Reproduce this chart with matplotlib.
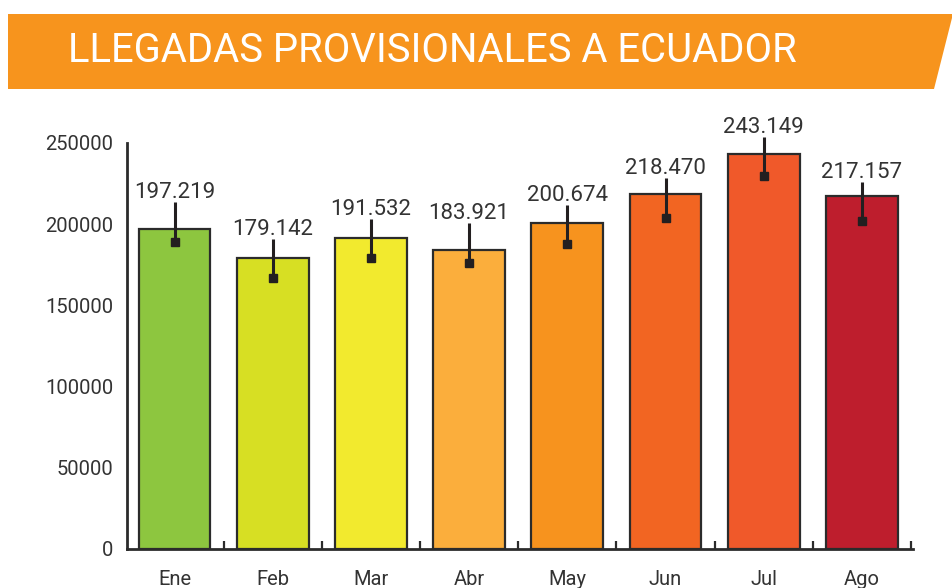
import matplotlib
matplotlib.use("Agg")
import matplotlib.pyplot as plt
from matplotlib.patches import Polygon
import numpy as np

# data
meses = ["Ene", "Feb", "Mar", "Abr", "May", "Jun", "Jul", "Ago"]
llegadas = [197219, 179142, 191532, 183921, 200674, 218470, 243149, 217157]
etiquetas = ["197.219", "179.142", "191.532", "183.921", "200.674", "218.470", "243.149", "217.157"]
# black square markers and the line above each of them
marcador = [189200, 166900, 179400, 176100, 187800, 203800, 229700, 202200]
tope_linea = [213900, 190900, 203200, 200700, 211800, 228400, 253900, 226200]
colores = ["#8DC63F", "#D7DF23", "#F2EA2E", "#FBAE3C", "#F7931E", "#F26522", "#F0592A", "#BE1E2D"]

plt.rcParams['font.family'] = ['Roboto', 'DejaVu Sans']
W, H = 953, 588
fig = plt.figure(figsize=(W / 100, H / 100), dpi=100)

# orange banner with the slanted right edge
banner = Polygon([(8 / W, 1 - 14 / H), (953 / W, 1 - 14 / H), (934 / W, 1 - 89 / H), (8 / W, 1 - 89 / H)],
                 closed=True, transform=fig.transFigure, facecolor="#F7941D", edgecolor="none")
fig.patches.append(banner)
titulo = fig.text(68 / W, 1 - 51 / H, "LLEGADAS PROVISIONALES A ECUADOR", color="white",
                  fontsize=30, ha="left", va="center",
                  family=["Liberation Sans Narrow", "Roboto", "DejaVu Sans"])
# fit the title to the width in the reference
fig.canvas.draw()
ancho = titulo.get_window_extent().width
titulo.set_fontsize(30 * 727 / ancho)

ax = fig.add_axes([127 / W, 39 / H, (913 - 127) / W, (549 - 143) / H])
x = np.arange(len(meses))
ax.bar(x, llegadas, width=0.73, color=colores, edgecolor="#2b2b2b", linewidth=1.6, zorder=2)

err_sup = np.array(tope_linea) - np.array(marcador)
eb = ax.errorbar(x, marcador, yerr=[np.zeros(len(x)), err_sup], fmt="s", color="#231f20",
                 ms=6, elinewidth=2.2, capsize=0, zorder=3)
for parte in eb.lines[2]:
    parte.set_clip_on(False)

for xi, top, txt in zip(x, tope_linea, etiquetas):
    ax.annotate(txt, (xi, top), xytext=(0, -1), textcoords="offset points",
                ha="center", va="bottom", fontsize=16, color="#333333", zorder=4,
                annotation_clip=False)

ax.set_xlim(-0.484, 7.52)
ax.set_ylim(0, 250000)
ax.set_yticks([0, 50000, 100000, 150000, 200000, 250000])
ax.set_yticklabels(["0", "50000", "100000", "150000", "200000", "250000"])
ax.set_xticks(x)
ax.set_xticklabels(meses)
ax.set_xticks(x + 0.5, minor=True)
ax.tick_params(axis="x", which="major", length=0, pad=15, labelsize=14.5, labelcolor="#333333")
ax.tick_params(axis="x", which="minor", direction="in", length=6, width=1.6, color="#2b2b2b")
ax.tick_params(axis="y", length=0, pad=10, labelsize=14.5, labelcolor="#333333")

for s in ["top", "right"]:
    ax.spines[s].set_visible(False)
for s in ["left", "bottom"]:
    ax.spines[s].set_linewidth(2)
    ax.spines[s].set_color("#2b2b2b")

fig.savefig("out.png", dpi=100)
